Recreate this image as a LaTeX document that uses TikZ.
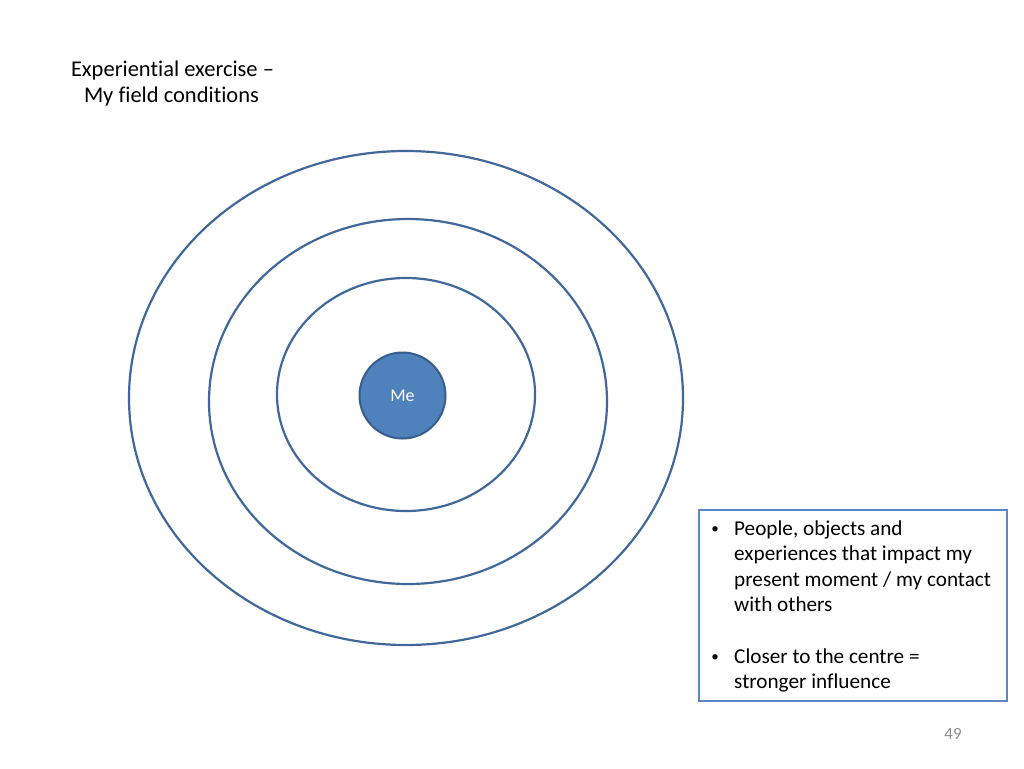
\documentclass[tikz,border=0pt]{standalone}
\usepackage{fontspec}
\setmainfont{Carlito}[Ligatures={NoCommon,NoContextual}]
\definecolor{ringblue}{HTML}{41689A}
\definecolor{mefill}{HTML}{4F81BD}
\definecolor{meedge}{HTML}{385D8A}
\definecolor{boxblue}{HTML}{5B87C2}
\definecolor{pagegray}{HTML}{8C8C8C}
\begin{document}
\begin{tikzpicture}[x=1pt,y=-1pt,
  ring/.style={draw=ringblue,line width=2.2pt},
  bodytext/.style={font=\fontsize{21.2}{25.5}\selectfont,inner sep=0pt,align=left},
  titletext/.style={font=\fontsize{22.5}{26}\selectfont,inner sep=0pt},
  bulletmark/.style={font=\fontsize{15}{18}\selectfont,inner sep=0pt}]
\useasboundingbox (0,0) rectangle (1024,768);
\fill[white] (0,0) rectangle (1024,768);
% title
\node[titletext,anchor=base] (title1) at (172.5,76) {Experiential exercise --};
\node[titletext,anchor=base] (title2) at (171.5,102) {My field conditions};
% rings
\draw[ring] (406,398) ellipse [x radius=277, y radius=247];
\draw[ring] (408,401.5) ellipse [x radius=199, y radius=182.5];
\draw[ring] (406,394.5) ellipse [x radius=129, y radius=116.5];
% Me
\node[circle,fill=mefill,draw=meedge,line width=2pt,minimum size=86pt,inner sep=0pt,
      text=white,font=\fontsize{18}{20}\selectfont] (me) at (402.5,395.5) {Me};
% text box
\draw[draw=boxblue,line width=2.2pt] (699,510) rectangle (1007,701);
\node[bulletmark,anchor=base] (b1) at (715,533) {•};
\node[bodytext,anchor=base west] (t1a) at (734,535) {People, objects and};
\node[bodytext,anchor=base west] (t1b) at (734,560.5) {experiences that impact my};
\node[bodytext,anchor=base west] (t1c) at (734,586) {present moment / my contact};
\node[bodytext,anchor=base west] (t1d) at (734,611.5) {with others};
\node[bulletmark,anchor=base] (b2) at (715,661) {•};
\node[bodytext,anchor=base west] (t2a) at (734,663) {Closer to the centre =};
\node[bodytext,anchor=base west] (t2b) at (734,688.5) {stronger influence};
% page number
\node[text=pagegray,font=\fontsize{17}{20}\selectfont,inner sep=0pt,anchor=base] (pg) at (953,739) {49};
\end{tikzpicture}
\end{document}
